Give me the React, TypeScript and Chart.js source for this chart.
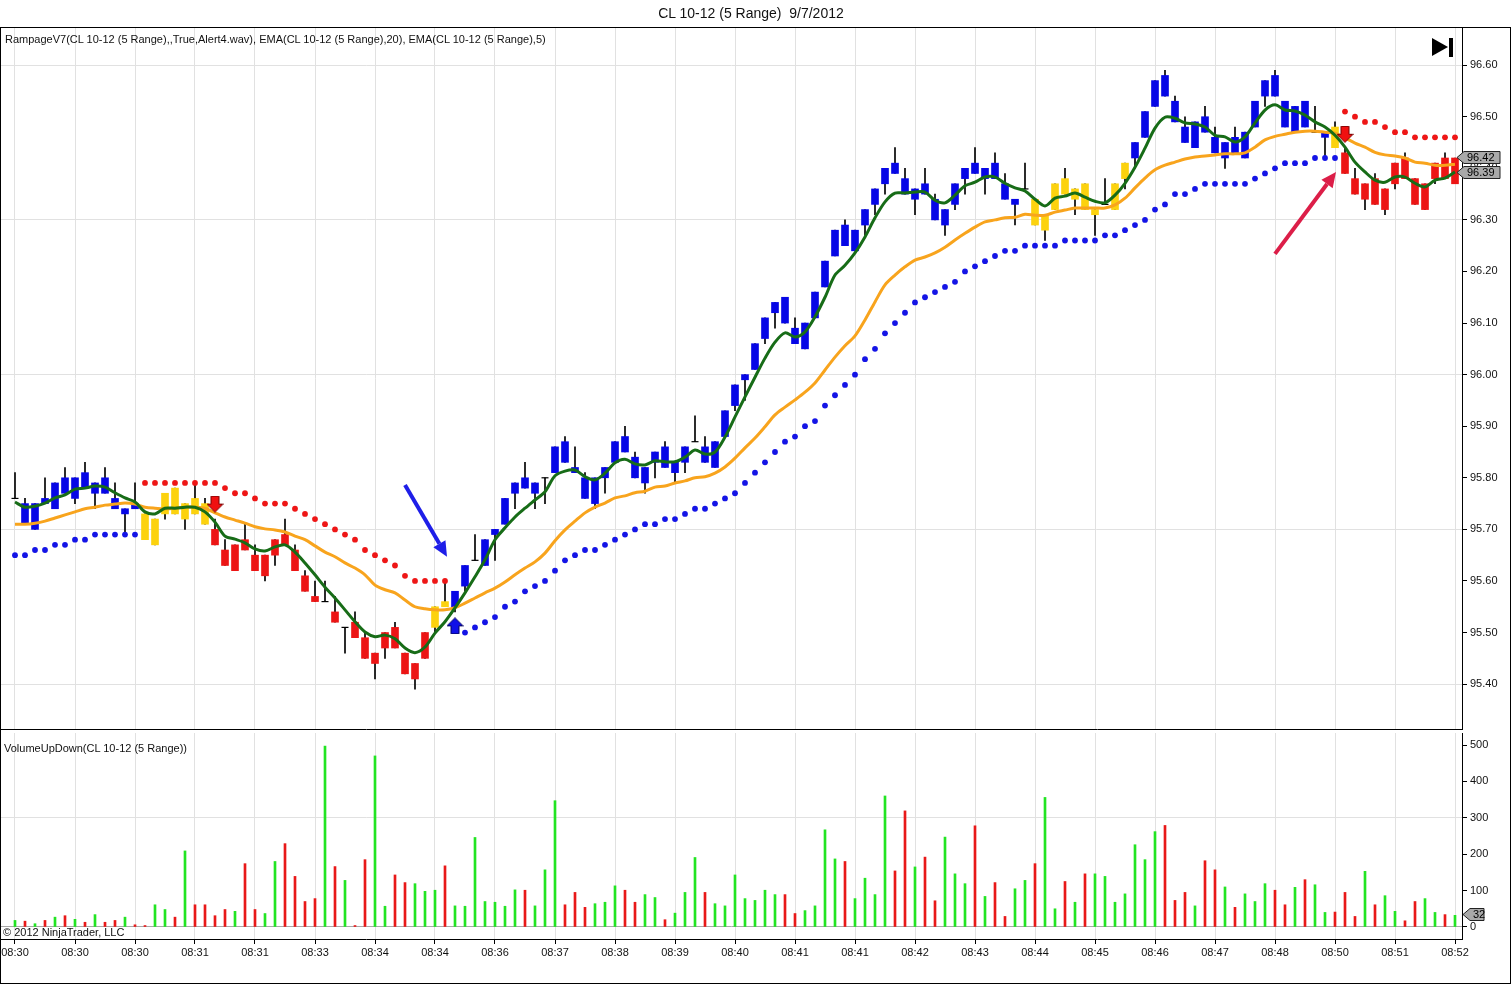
import React, { useEffect, useRef } from "react";
import { Chart, registerables } from "chart.js";

Chart.register(...registerables);

const FONT = "'Liberation Sans', Arial, Helvetica, sans-serif";

// ---------- price bars (5 range) ----------
const barOpen = [
  95.76, 95.75, 95.70, 95.75, 95.74, 95.77, 95.80, 95.78, 95.79, 95.77,
  95.76, 95.74, 95.74, 95.73, 95.67, 95.73, 95.73, 95.75, 95.73, 95.75,
  95.70, 95.66, 95.67, 95.66, 95.65, 95.65, 95.65, 95.69, 95.66, 95.61,
  95.57, 95.56, 95.54, 95.51, 95.52, 95.49, 95.46, 95.47, 95.51, 95.46,
  95.44, 95.45, 95.51, 95.55, 95.55, 95.59, 95.64, 95.63, 95.69, 95.71,
  95.77, 95.80, 95.79, 95.80, 95.81, 95.83, 95.82, 95.80, 95.80, 95.80,
  95.83, 95.85, 95.84, 95.82, 95.83, 95.86, 95.83, 95.83, 95.87, 95.86,
  95.82, 95.88, 95.94, 95.99, 96.01, 96.07, 96.12, 96.10, 96.09, 96.10,
  96.11, 96.17, 96.23, 96.29, 96.24, 96.29, 96.33, 96.37, 96.41, 96.38,
  96.36, 96.35, 96.34, 96.32, 96.33, 96.38, 96.39, 96.40, 96.38, 96.37,
  96.34, 96.36, 96.34, 96.31, 96.32, 96.35, 96.36, 96.32, 96.32, 96.33,
  96.32, 96.38, 96.42, 96.46, 96.52, 96.58, 96.53, 96.48, 96.44, 96.47,
  96.46, 96.45, 96.43, 96.47, 96.48, 96.54, 96.54, 96.53, 96.47, 96.53,
  96.47, 96.47, 96.48, 96.43, 96.38, 96.37, 96.38, 96.36, 96.37, 96.42,
  96.38, 96.37, 96.38, 96.42, 96.37,
];
const barHigh = [
  95.81, 95.76, 95.75, 95.80, 95.79, 95.82, 95.80, 95.83, 95.79, 95.82,
  95.79, 95.74, 95.79, 95.73, 95.72, 95.77, 95.78, 95.75, 95.79, 95.76,
  95.72, 95.68, 95.67, 95.71, 95.67, 95.65, 95.68, 95.72, 95.67, 95.62,
  95.60, 95.60, 95.57, 95.51, 95.54, 95.50, 95.46, 95.50, 95.52, 95.46,
  95.44, 95.50, 95.55, 95.60, 95.58, 95.63, 95.69, 95.68, 95.70, 95.76,
  95.79, 95.83, 95.79, 95.80, 95.86, 95.88, 95.86, 95.81, 95.80, 95.82,
  95.87, 95.90, 95.85, 95.82, 95.85, 95.87, 95.83, 95.86, 95.92, 95.88,
  95.87, 95.93, 95.98, 96.00, 96.06, 96.11, 96.14, 96.15, 96.11, 96.10,
  96.16, 96.22, 96.28, 96.30, 96.28, 96.32, 96.36, 96.40, 96.44, 96.40,
  96.36, 96.40, 96.35, 96.32, 96.37, 96.40, 96.44, 96.40, 96.43, 96.39,
  96.34, 96.41, 96.34, 96.31, 96.37, 96.40, 96.36, 96.37, 96.32, 96.38,
  96.37, 96.41, 96.45, 96.51, 96.57, 96.59, 96.54, 96.50, 96.49, 96.52,
  96.48, 96.45, 96.48, 96.47, 96.53, 96.57, 96.59, 96.53, 96.52, 96.53,
  96.52, 96.47, 96.49, 96.44, 96.40, 96.37, 96.39, 96.36, 96.41, 96.43,
  96.38, 96.37, 96.41, 96.43, 96.42,
];
const barLow = [
  95.76, 95.71, 95.70, 95.75, 95.74, 95.77, 95.75, 95.78, 95.74, 95.77,
  95.74, 95.69, 95.74, 95.68, 95.67, 95.72, 95.73, 95.70, 95.73, 95.71,
  95.67, 95.63, 95.62, 95.66, 95.62, 95.60, 95.63, 95.67, 95.62, 95.58,
  95.56, 95.56, 95.52, 95.46, 95.49, 95.45, 95.41, 95.45, 95.47, 95.42,
  95.39, 95.45, 95.50, 95.55, 95.54, 95.58, 95.64, 95.63, 95.64, 95.71,
  95.74, 95.78, 95.74, 95.75, 95.81, 95.83, 95.81, 95.76, 95.74, 95.77,
  95.83, 95.85, 95.80, 95.77, 95.80, 95.82, 95.79, 95.81, 95.87, 95.83,
  95.82, 95.88, 95.93, 95.95, 96.01, 96.06, 96.09, 96.10, 96.06, 96.05,
  96.11, 96.17, 96.23, 96.25, 96.24, 96.27, 96.31, 96.35, 96.39, 96.35,
  96.31, 96.35, 96.30, 96.27, 96.32, 96.35, 96.39, 96.35, 96.38, 96.34,
  96.29, 96.36, 96.29, 96.26, 96.32, 96.35, 96.31, 96.32, 96.27, 96.33,
  96.32, 96.36, 96.40, 96.46, 96.52, 96.54, 96.49, 96.45, 96.44, 96.47,
  96.43, 96.40, 96.43, 96.42, 96.48, 96.52, 96.54, 96.48, 96.47, 96.48,
  96.47, 96.42, 96.44, 96.39, 96.35, 96.32, 96.33, 96.31, 96.36, 96.38,
  96.33, 96.32, 96.37, 96.38, 96.37,
];
const barClose = [
  95.76, 95.71, 95.75, 95.76, 95.79, 95.80, 95.76, 95.81, 95.77, 95.80,
  95.74, 95.73, 95.75, 95.68, 95.72, 95.77, 95.78, 95.72, 95.76, 95.71,
  95.67, 95.63, 95.62, 95.68, 95.62, 95.61, 95.68, 95.67, 95.62, 95.58,
  95.56, 95.56, 95.52, 95.51, 95.49, 95.45, 95.44, 95.50, 95.47, 95.42,
  95.41, 95.50, 95.55, 95.56, 95.58, 95.63, 95.64, 95.68, 95.70, 95.76,
  95.79, 95.78, 95.77, 95.80, 95.86, 95.87, 95.81, 95.76, 95.75, 95.82,
  95.87, 95.88, 95.80, 95.79, 95.85, 95.82, 95.81, 95.86, 95.87, 95.83,
  95.87, 95.93, 95.98, 96.00, 96.06, 96.11, 96.14, 96.15, 96.06, 96.05,
  96.16, 96.22, 96.28, 96.25, 96.28, 96.32, 96.36, 96.40, 96.39, 96.35,
  96.34, 96.37, 96.30, 96.29, 96.37, 96.40, 96.41, 96.38, 96.41, 96.34,
  96.33, 96.36, 96.29, 96.28, 96.37, 96.38, 96.34, 96.37, 96.31, 96.33,
  96.37, 96.41, 96.45, 96.51, 96.57, 96.54, 96.49, 96.45, 96.49, 96.50,
  96.43, 96.42, 96.46, 96.42, 96.53, 96.57, 96.58, 96.48, 96.52, 96.48,
  96.47, 96.46, 96.44, 96.39, 96.35, 96.34, 96.33, 96.32, 96.41, 96.38,
  96.33, 96.32, 96.41, 96.38, 96.42,
];
// b = up trend (blue), r = down trend (red), y = neutral (yellow)
const barTrend = (
  "bbbbbbbbbb" + "bbbyyyyyyy" + "rrrrrrrrrr" + "rrrrrrrrrr" + "rryybbbbbb" +
  "bbbbbbbbbb" + "bbbbbbbbbb" + "bbbbbbbbbb" + "bbbbbbbbbb" + "bbbbbbbbbb" +
  "bbyyyyyyyy" + "yybbbbbbbb" + "bbbbbbbbbb" + "bbyrrrrrrr" + "rrrrr"
).split("");

// ---------- moving averages ----------
const ema5 = [
  95.753, 95.743, 95.745, 95.751, 95.761, 95.767, 95.778, 95.780, 95.784, 95.782,
  95.771, 95.761, 95.753, 95.734, 95.730, 95.741, 95.741, 95.743, 95.743, 95.734,
  95.714, 95.687, 95.681, 95.674, 95.662, 95.658, 95.666, 95.670, 95.656, 95.635,
  95.612, 95.588, 95.567, 95.544, 95.521, 95.501, 95.492, 95.495, 95.488, 95.470,
  95.461, 95.472, 95.499, 95.521, 95.548, 95.577, 95.608, 95.641, 95.680, 95.703,
  95.724, 95.741, 95.757, 95.773, 95.804, 95.813, 95.815, 95.802, 95.796, 95.809,
  95.829, 95.836, 95.827, 95.825, 95.833, 95.831, 95.831, 95.840, 95.854, 95.846,
  95.850, 95.879, 95.918, 95.957, 95.995, 96.032, 96.063, 96.081, 96.073, 96.083,
  96.112, 96.150, 96.193, 96.212, 96.236, 96.267, 96.304, 96.335, 96.352, 96.352,
  96.354, 96.354, 96.338, 96.333, 96.348, 96.366, 96.373, 96.383, 96.383, 96.371,
  96.362, 96.356, 96.340, 96.327, 96.342, 96.346, 96.352, 96.344, 96.336, 96.333,
  96.348, 96.371, 96.402, 96.439, 96.478, 96.499, 96.497, 96.488, 96.486, 96.480,
  96.464, 96.461, 96.451, 96.461, 96.488, 96.513, 96.523, 96.513, 96.511, 96.503,
  96.490, 96.480, 96.464, 96.441, 96.412, 96.393, 96.377, 96.373, 96.383, 96.383,
  96.371, 96.364, 96.377, 96.381, 96.393,
];
const ema20 = [
  95.710, 95.710, 95.712, 95.716, 95.722, 95.728, 95.734, 95.740, 95.743, 95.747,
  95.749, 95.751, 95.749, 95.743, 95.741, 95.740, 95.741, 95.743, 95.743, 95.741,
  95.732, 95.724, 95.718, 95.712, 95.705, 95.701, 95.699, 95.695, 95.687, 95.680,
  95.668, 95.656, 95.647, 95.635, 95.625, 95.612, 95.592, 95.583, 95.577, 95.563,
  95.550, 95.546, 95.544, 95.544, 95.548, 95.557, 95.567, 95.577, 95.586, 95.598,
  95.612, 95.625, 95.637, 95.654, 95.678, 95.699, 95.716, 95.732, 95.743, 95.751,
  95.761, 95.765, 95.771, 95.774, 95.782, 95.784, 95.790, 95.794, 95.800, 95.802,
  95.809, 95.821, 95.838, 95.858, 95.877, 95.899, 95.922, 95.937, 95.951, 95.966,
  95.984, 96.009, 96.034, 96.056, 96.075, 96.106, 96.141, 96.174, 96.193, 96.209,
  96.222, 96.228, 96.236, 96.247, 96.261, 96.274, 96.286, 96.296, 96.300, 96.304,
  96.305, 96.311, 96.309, 96.309, 96.315, 96.319, 96.323, 96.323, 96.323, 96.323,
  96.329, 96.342, 96.362, 96.381, 96.397, 96.406, 96.412, 96.418, 96.422, 96.424,
  96.426, 96.428, 96.428, 96.430, 96.441, 96.455, 96.462, 96.466, 96.470, 96.472,
  96.472, 96.470, 96.468, 96.459, 96.449, 96.441, 96.431, 96.426, 96.424, 96.420,
  96.412, 96.410, 96.406, 96.406, 96.408,
];

// ---------- Rampage stop dots (start bar + values) ----------
const supportStartA = 0;
const supportDotsA = [95.65, 95.65, 95.66, 95.66, 95.67, 95.67, 95.68, 95.68, 95.69, 95.69, 95.69, 95.69, 95.69];
const supportStartB = 45;
const supportDotsB = [
  95.50, 95.51, 95.52, 95.53, 95.55, 95.56, 95.58, 95.59, 95.60, 95.62,
  95.64, 95.65, 95.66, 95.66, 95.67, 95.68, 95.69, 95.70, 95.71, 95.71,
  95.72, 95.72, 95.73, 95.74, 95.74, 95.75, 95.76, 95.77, 95.79, 95.81,
  95.83, 95.85, 95.87, 95.88, 95.90, 95.91, 95.94, 95.96, 95.98, 96.00,
  96.03, 96.05, 96.08, 96.10, 96.12, 96.14, 96.15, 96.16, 96.17, 96.18,
  96.20, 96.21, 96.22, 96.23, 96.24, 96.24, 96.25, 96.25, 96.25, 96.25,
  96.26, 96.26, 96.26, 96.26, 96.27, 96.27, 96.28, 96.29, 96.30, 96.32,
  96.33, 96.35, 96.35, 96.36, 96.37, 96.37, 96.37, 96.37, 96.37, 96.38,
  96.39, 96.40, 96.41, 96.41, 96.41, 96.42, 96.42, 96.42,
];
const resistStartA = 13;
const resistDotsA = [
  95.79, 95.79, 95.79, 95.79, 95.79, 95.79, 95.79, 95.79, 95.78, 95.77,
  95.77, 95.76, 95.75, 95.75, 95.75, 95.74, 95.73, 95.72, 95.71, 95.70,
  95.69, 95.68, 95.66, 95.65, 95.64, 95.63, 95.61, 95.60, 95.60, 95.60, 95.60,
];
const resistStartB = 133;
const resistDotsB = [96.51, 96.50, 96.49, 96.49, 96.48, 96.47, 96.47, 96.46, 96.46, 96.46, 96.46, 96.46];

// signal arrows (bar, price)
const signalBars = [20, 44, 133];
const signalPrices = [95.749, 95.513, 96.466];
const signalDirs = ["down", "up", "down"];

// hand-drawn callout arrows (in bar / price units)
const callouts = [
  { x1: 39, y1: 95.786, x2: 43.2, y2: 95.647, color: "#1e1ee8" },
  { x1: 126, y1: 96.234, x2: 132.1, y2: 96.393, color: "#dc1e48" },
];

// ---------- volume ----------
const volume = [
  18, 16, 9, 18, 27, 31, 21, 13, 34, 13,
  18, 27, 6, 4, 61, 48, 27, 209, 61, 61,
  31, 48, 43, 174, 48, 37, 180, 229, 139, 70,
  78, 497, 166, 128, 4, 185, 470, 57, 143, 122,
  119, 98, 101, 168, 58, 57, 246, 70, 68, 57,
  102, 101, 58, 157, 347, 61, 95, 54, 64, 68,
  113, 101, 68, 89, 81, 20, 38, 95, 191, 95,
  64, 58, 143, 78, 73, 101, 89, 89, 37, 45,
  58, 267, 187, 180, 78, 134, 89, 360, 154, 319,
  165, 192, 72, 247, 146, 119, 278, 84, 122, 29,
  105, 128, 174, 356, 50, 125, 68, 146, 146, 139,
  68, 91, 226, 185, 262, 279, 73, 95, 58, 182,
  157, 110, 54, 91, 70, 119, 101, 61, 109, 130,
  116, 40, 41, 95, 29, 153, 61, 86, 43, 17,
  70, 78, 40, 34, 32,
];
const volumeDir = (
  "grgrgrgrgr" + "rgrrggrgrr" + "rrgrrggrrr" + "rgrgrrggrr" + "gggrgggggg" +
  "grgggrrrgg" + "grrggrgggr" + "gggggggrrg" + "gggrggggrr" + "grrgggrgrr" +
  "ggrggrgrgg" + "gggggrrrgr" + "rgrgggrrgr" + "ggrrrgrggr" + "rggrg"
).split("");

// ---------- axes ----------
const timeTickBars = [0, 6, 12, 18, 24, 30, 36, 42, 48, 54, 60, 66, 72, 78, 84, 90, 96, 102, 108, 114, 120, 126, 132, 138, 144];
const timeLabels = [
  "08:30", "08:30", "08:30", "08:31", "08:31", "08:33", "08:34", "08:34", "08:36", "08:37",
  "08:38", "08:39", "08:40", "08:41", "08:41", "08:42", "08:43", "08:44", "08:45", "08:46",
  "08:47", "08:48", "08:50", "08:51", "08:52",
];
const priceTicks = [95.4, 95.5, 95.6, 95.7, 95.8, 95.9, 96.0, 96.1, 96.2, 96.3, 96.4, 96.5, 96.6];
const priceGridLines = [95.4, 95.7, 96.0, 96.3, 96.6];
const volumeTicks = [0, 100, 200, 300, 400, 500];
const volumeGridLines = [300];
const priceTags = [96.42, 96.39];
const volumeTags = [32];

const X_MIN = -1.4;
const X_MAX = 144.7;

const TREND_COLORS: Record<string, string> = { b: "#0606e6", r: "#ec1515", y: "#fcd20e" };
const GRID = "#e1e1e1";

function makeArrow(dir: string, fill: string, stroke: string) {
  const c = document.createElement("canvas");
  c.width = 17;
  c.height = 17;
  const g = c.getContext("2d")!;
  g.beginPath();
  if (dir === "down") {
    g.moveTo(4.5, 0.5); g.lineTo(12.5, 0.5); g.lineTo(12.5, 8.5); g.lineTo(16.5, 8.5);
    g.lineTo(8.5, 16.5); g.lineTo(0.5, 8.5); g.lineTo(4.5, 8.5);
  } else {
    g.moveTo(4.5, 16.5); g.lineTo(12.5, 16.5); g.lineTo(12.5, 8.5); g.lineTo(16.5, 8.5);
    g.lineTo(8.5, 0.5); g.lineTo(0.5, 8.5); g.lineTo(4.5, 8.5);
  }
  g.closePath();
  g.fillStyle = fill;
  g.fill();
  g.strokeStyle = stroke;
  g.lineWidth = 1;
  g.stroke();
  return c;
}

function drawTag(ctx: CanvasRenderingContext2D, tipX: number, y: number, width: number, text: string) {
  const h = 6;
  ctx.beginPath();
  ctx.moveTo(tipX, y);
  ctx.lineTo(tipX + 7, y - h);
  ctx.lineTo(tipX + width, y - h);
  ctx.lineTo(tipX + width, y + h);
  ctx.lineTo(tipX + 7, y + h);
  ctx.closePath();
  ctx.fillStyle = "#a9a9a9";
  ctx.fill();
  ctx.strokeStyle = "#222";
  ctx.lineWidth = 1;
  ctx.stroke();
  ctx.fillStyle = "#000";
  ctx.font = `11px ${FONT}`;
  ctx.textBaseline = "middle";
  ctx.textAlign = "left";
  ctx.fillText(text, tipX + 10, y + 0.5);
}

const near = (list: number[], v: number) => list.some((g) => Math.abs(g - v) < 1e-6);

const zeroPad = (s: any) => {
  s.paddingTop = 0;
  s.paddingBottom = 0;
  s.paddingLeft = 0;
  s.paddingRight = 0;
};

export default function App() {
  const priceRef = useRef<HTMLCanvasElement>(null);
  const volRef = useRef<HTMLCanvasElement>(null);

  useEffect(() => {
    document.body.style.margin = "0";
    const n = barClose.length;
    const wicks: any[] = [];
    const bodies: any[] = [];
    const bodyColors: string[] = [];
    const dojis: any[] = [];
    for (let i = 0; i < n; i++) {
      wicks.push({ x: i, y: [barLow[i], barHigh[i]] });
      if (barOpen[i] !== barClose[i]) {
        bodies.push({ x: i, y: [barOpen[i], barClose[i]] });
        bodyColors.push(TREND_COLORS[barTrend[i]]);
      } else {
        dojis.push({ x: i, y: barClose[i] });
      }
    }
    const seg = (start: number, vals: number[]) => vals.map((v, k) => ({ x: start + k, y: v }));
    const downArrow = makeArrow("down", "#f01010", "#7a0000");
    const upArrow = makeArrow("up", "#1010e8", "#000060");
    const arrowPts = (dir: string) =>
      signalBars.map((b, k) => ({ x: b, y: signalPrices[k], d: signalDirs[k] })).filter((p) => p.d === dir);

    const priceOverlay = {
      id: "priceOverlay",
      afterDatasetsDraw(chart: any) {
        const { ctx, scales } = chart;
        const xs = scales.x;
        const ys = scales.y;
        ctx.save();
        for (const c of callouts) {
          const x1 = xs.getPixelForValue(c.x1);
          const y1 = ys.getPixelForValue(c.y1);
          const x2 = xs.getPixelForValue(c.x2);
          const y2 = ys.getPixelForValue(c.y2);
          const ang = Math.atan2(y2 - y1, x2 - x1);
          const headLen = 15;
          const headW = 7;
          const bx = x2 - headLen * Math.cos(ang);
          const by = y2 - headLen * Math.sin(ang);
          ctx.strokeStyle = c.color;
          ctx.lineWidth = 4;
          ctx.lineCap = "butt";
          ctx.beginPath();
          ctx.moveTo(x1, y1);
          ctx.lineTo(bx, by);
          ctx.stroke();
          ctx.fillStyle = c.color;
          ctx.beginPath();
          ctx.moveTo(x2, y2);
          ctx.lineTo(bx + headW * Math.sin(ang), by - headW * Math.cos(ang));
          ctx.lineTo(bx - headW * Math.sin(ang), by + headW * Math.cos(ang));
          ctx.closePath();
          ctx.fill();
        }
        ctx.restore();
      },
      afterDraw(chart: any) {
        const { ctx, scales, chartArea } = chart;
        ctx.save();
        for (const v of priceTags) {
          drawTag(ctx, chartArea.right - 5, Math.round(scales.y.getPixelForValue(v)) - 0.5, 43, v.toFixed(2));
        }
        ctx.restore();
      },
    };

    const volOverlay = {
      id: "volOverlay",
      afterDraw(chart: any) {
        const { ctx, scales, chartArea } = chart;
        ctx.save();
        for (const v of volumeTags) {
          drawTag(ctx, chartArea.right + 1, Math.round(scales.y.getPixelForValue(v)) - 0.5, 21, String(v));
        }
        ctx.restore();
      },
    };

    const xAxisBase = {
      type: "linear" as const,
      min: X_MIN,
      max: X_MAX,
      offset: false,
      afterBuildTicks: (s: any) => {
        s.ticks = timeTickBars.map((v) => ({ value: v }));
      },
    };

    const price = new Chart(priceRef.current!, {
      type: "bar",
      data: {
        datasets: [
          {
            type: "bar",
            data: wicks,
            backgroundColor: "#000",
            barThickness: 1,
            grouped: false,
            order: 10,
          } as any,
          {
            type: "bar",
            data: bodies,
            backgroundColor: bodyColors,
            barThickness: 7,
            grouped: false,
            order: 9,
          } as any,
          {
            type: "line",
            data: dojis,
            showLine: false,
            pointStyle: "line",
            pointRadius: 3.5,
            pointBorderWidth: 1.2,
            pointBorderColor: "#000",
            order: 8,
          } as any,
          {
            type: "line",
            data: [...seg(supportStartA, supportDotsA), ...seg(supportStartB, supportDotsB)],
            showLine: false,
            pointRadius: 2.9,
            pointBorderWidth: 0,
            pointBackgroundColor: "#1414e6",
            order: 7,
          } as any,
          {
            type: "line",
            data: [...seg(resistStartA, resistDotsA), ...seg(resistStartB, resistDotsB)],
            showLine: false,
            pointRadius: 2.9,
            pointBorderWidth: 0,
            pointBackgroundColor: "#ee1616",
            order: 7,
          } as any,
          {
            type: "line",
            data: ema20.map((v, i) => ({ x: i, y: v })),
            borderColor: "#f8a41d",
            borderWidth: 3,
            pointRadius: 0,
            tension: 0.3,
            order: 6,
          } as any,
          {
            type: "line",
            data: ema5.map((v, i) => ({ x: i, y: v })),
            borderColor: "#176c17",
            borderWidth: 3,
            pointRadius: 0,
            tension: 0.3,
            order: 5,
          } as any,
          {
            type: "line",
            data: arrowPts("down"),
            showLine: false,
            pointStyle: downArrow,
            pointRadius: 8,
            order: 3,
          } as any,
          {
            type: "line",
            data: arrowPts("up"),
            showLine: false,
            pointStyle: upArrow,
            pointRadius: 8,
            order: 3,
          } as any,
        ],
      },
      options: {
        responsive: false,
        animation: false,
        events: [],
        layout: { autoPadding: false, padding: { top: 28, left: 1, right: 0, bottom: 0 } },
        plugins: { legend: { display: false }, tooltip: { enabled: false } },
        scales: {
          x: {
            ...xAxisBase,
            ticks: { display: false },
            grid: { color: GRID, drawTicks: false, offset: false },
            border: { display: true, color: "#000" },
            afterFit: (s: any) => {
              s.height = 2;
              zeroPad(s);
            },
          } as any,
          y: {
            type: "linear",
            position: "right",
            min: 95.313,
            max: 96.672,
            afterBuildTicks: (s: any) => {
              s.ticks = priceTicks.map((v) => ({ value: v }));
            },
            afterFit: (s: any) => {
              s.width = 50;
              zeroPad(s);
            },
            grid: {
              color: (c: any) => (c.tick && near(priceGridLines, c.tick.value) ? GRID : "rgba(0,0,0,0)"),
              tickColor: "#000",
              tickLength: 5,
            },
            border: { display: true, color: "#000" },
            ticks: {
              padding: 3,
              color: "#111",
              font: { family: FONT, size: 11 },
              callback: (v: any) => Number(v).toFixed(2),
            },
          } as any,
        },
      },
      plugins: [priceOverlay],
    });

    const vol = new Chart(volRef.current!, {
      type: "bar",
      data: {
        datasets: [
          {
            type: "bar",
            data: volume.map((v, i) => ({ x: i, y: v })),
            backgroundColor: volumeDir.map((d) => (d === "g" ? "#22e422" : "#e81818")),
            barThickness: 2,
            grouped: false,
          } as any,
        ],
      },
      options: {
        responsive: false,
        animation: false,
        events: [],
        layout: { autoPadding: false, padding: { top: 2, left: 1, right: 0, bottom: 0 } },
        plugins: { legend: { display: false }, tooltip: { enabled: false } },
        scales: {
          x: {
            ...xAxisBase,
            ticks: {
              autoSkip: false,
              maxRotation: 0,
              padding: 2,
              color: "#111",
              font: { family: FONT, size: 11 },
              callback: (_v: any, i: number) => timeLabels[i],
            },
            grid: { color: GRID, tickColor: "#000", tickLength: 5, offset: false },
            border: { display: true, color: "#000" },
            afterFit: (s: any) => {
              s.height = 46;
              zeroPad(s);
            },
          } as any,
          y: {
            type: "linear",
            position: "right",
            min: -33,
            max: 533,
            afterBuildTicks: (s: any) => {
              s.ticks = volumeTicks.map((v) => ({ value: v }));
            },
            afterFit: (s: any) => {
              s.width = 50;
              zeroPad(s);
            },
            grid: {
              color: (c: any) =>
                c.tick && c.tick.value === 0 ? "#a8a8a8" : c.tick && near(volumeGridLines, c.tick.value) ? GRID : "rgba(0,0,0,0)",
              tickColor: "#000",
              tickLength: 5,
            },
            border: { display: true, color: "#000" },
            ticks: {
              padding: 3,
              color: "#111",
              font: { family: FONT, size: 11 },
            },
          } as any,
        },
      },
      plugins: [volOverlay],
    });

    return () => {
      price.destroy();
      vol.destroy();
    };
  }, []);

  const text: React.CSSProperties = {
    position: "absolute",
    fontFamily: FONT,
    fontSize: 11,
    lineHeight: "13px",
    color: "#111",
    whiteSpace: "pre",
    pointerEvents: "none",
  };

  return (
    <div style={{ position: "absolute", left: 0, top: 0, width: 1512, height: 985, background: "#fff", overflow: "hidden" }}>
      <canvas ref={priceRef} width={1512} height={731} style={{ position: "absolute", left: 0, top: 0 }} />
      <canvas ref={volRef} width={1512} height={254} style={{ position: "absolute", left: 0, top: 731 }} />
      <div
        style={{
          position: "absolute",
          left: 0,
          top: 27,
          width: 1511,
          height: 957,
          border: "1px solid #000",
          boxSizing: "border-box",
          pointerEvents: "none",
        }}
      />
      <div style={{ ...text, left: 0, top: 5, width: 1502, textAlign: "center", fontSize: 14, lineHeight: "16px" }}>
        {"CL 10-12 (5 Range)  9/7/2012"}
      </div>
      <div style={{ ...text, left: 5, top: 33 }}>
        {"RampageV7(CL 10-12 (5 Range),,True,Alert4.wav), EMA(CL 10-12 (5 Range),20), EMA(CL 10-12 (5 Range),5)"}
      </div>
      <div style={{ ...text, left: 4, top: 742 }}>{"VolumeUpDown(CL 10-12 (5 Range))"}</div>
      <div style={{ ...text, left: 3, top: 926 }}>{"© 2012 NinjaTrader, LLC"}</div>
      <div
        style={{
          position: "absolute",
          left: 1432,
          top: 38,
          width: 0,
          height: 0,
          borderTop: "9.5px solid transparent",
          borderBottom: "9.5px solid transparent",
          borderLeft: "16px solid #000",
        }}
      />
      <div style={{ position: "absolute", left: 1449, top: 38, width: 4, height: 19, background: "#000" }} />
    </div>
  );
}
